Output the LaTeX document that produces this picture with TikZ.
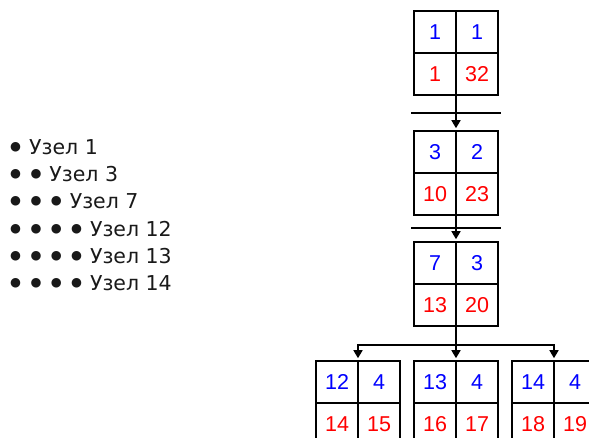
\documentclass[tikz,border=0pt]{standalone}
\usepackage{fontspec}
\setmainfont{DejaVu Sans}
\newfontfamily\digfont{Liberation Sans}
\usetikzlibrary{arrows.meta,calc}
\definecolor{dblue}{RGB}{0,0,255}
\definecolor{dred}{RGB}{255,0,0}
\tikzset{
  boxn/.style={draw=black, line width=1.6pt, minimum width=84pt, minimum height=84pt, inner sep=0pt},
  frame/.style={draw=black, line width=1.6pt},
  bluet/.style={text=dblue, font=\digfont\fontsize{21.5}{21.5}\selectfont, inner sep=0pt},
  redt/.style={text=dred, font=\digfont\fontsize{21.5}{21.5}\selectfont, inner sep=0pt},
  conn/.style={draw=black, line width=1.6pt},
  arr/.style={conn, -{Triangle[width=9pt,length=8pt]}, shorten >=2pt},
  listt/.style={anchor=base west, inner sep=0pt, font=\fontsize{20.5}{24}\selectfont, text=black!90},
}
\newcommand\bl{\makebox[20.3pt][l]{\raisebox{4.3pt}{\fontsize{12.5}{12.5}\selectfont ●}}}
\newcommand\qbox[7]{%
  \node[boxn] (#1) at (#2,#3) {};
  \draw[frame] (#1.north) -- (#1.south);
  \draw[frame] (#1.west) -- (#1.east);
  \node[bluet] (#1a) at ([xshift=-21pt,yshift=21pt]#1.center) {#4};
  \node[bluet] (#1b) at ([xshift=21pt,yshift=21pt]#1.center) {#5};
  \node[redt] (#1c) at ([xshift=-21pt,yshift=-21pt]#1.center) {#6};
  \node[redt] (#1d) at ([xshift=21pt,yshift=-21pt]#1.center) {#7};
}
\begin{document}
\begin{tikzpicture}[x=1pt,y=-1pt]
\useasboundingbox (0,0) rectangle (589,438);
\clip (0,0) rectangle (589,438);
% list
\node[listt] (l1) at (10,155) {\bl\hspace{-1.3pt}Узел 1};
\node[listt] (l2) at (10,182) {\bl\bl\hspace{-1.3pt}Узел 3};
\node[listt] (l3) at (10,209) {\bl\bl\bl\hspace{-1.3pt}Узел 7};
\node[listt] (l4) at (10,237) {\bl\bl\bl\bl\hspace{-1.3pt}Узел 12};
\node[listt] (l5) at (10,264) {\bl\bl\bl\bl\hspace{-1.3pt}Узел 13};
\node[listt] (l6) at (10,291) {\bl\bl\bl\bl\hspace{-1.3pt}Узел 14};
% boxes
\qbox{b1}{456}{53}{1}{1}{1}{32}
\qbox{b2}{456}{173}{3}{2}{10}{23}
\qbox{b3}{456}{284}{7}{3}{13}{20}
\qbox{c1}{358}{403}{12}{4}{14}{15}
\qbox{c2}{456}{403}{13}{4}{16}{17}
\qbox{c3}{554}{403}{14}{4}{18}{19}
% connectors
\draw[arr] (b1.south) -- (b2.north);
\draw[arr] (b2.south) -- (b3.north);
\draw[arr] (b3.south) -- (c2.north);
\draw[arr] (b3.south) -- ++(0,18) -| (c1.north);
\draw[arr] (b3.south) -- ++(0,18) -| (c3.north);
% separators
\draw[conn] (411,113) -- (501,113);
\draw[conn] (411,228) -- (501,228);
\end{tikzpicture}
\end{document}
